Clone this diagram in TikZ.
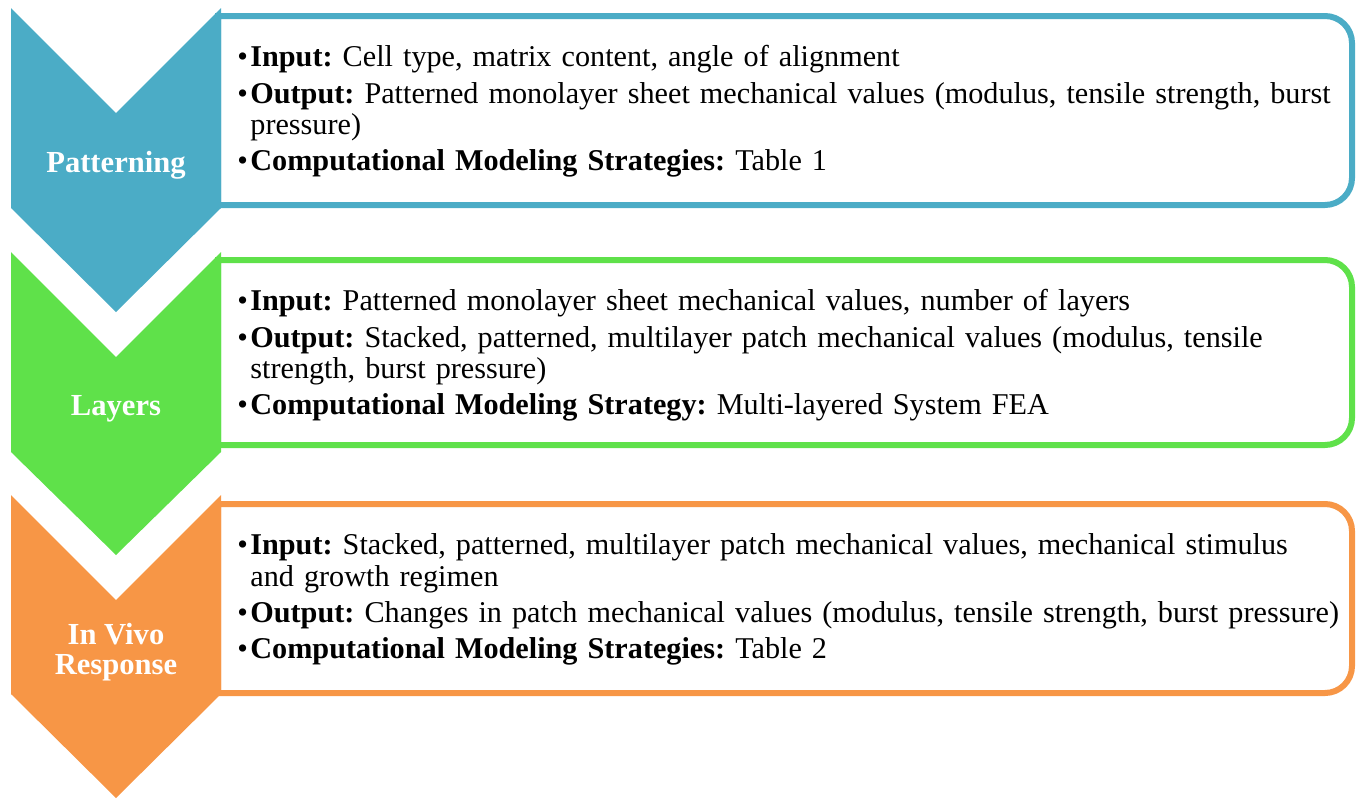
\documentclass[tikz,border=0pt]{standalone}
\usepackage{fontspec}
\setmainfont{Liberation Serif}
\usepackage{tikz}
\frenchspacing
\hyphenpenalty=10000
\definecolor{colorPatterning}{HTML}{4BACC6}
\definecolor{colorLayers}{HTML}{5FE14A}
\definecolor{colorVivo}{HTML}{F79646}
\tikzset{stage box/.style={draw=#1, line width=3pt, fill=white},
  stage label/.style={text=white, font=\fontsize{15.3}{15}\selectfont\bfseries, align=center, inner sep=0pt},
  stage text/.style={anchor=north west, text width=570pt, align=left, inner sep=0pt, font=\fontsize{15.1}{15.6}\selectfont}}
\newcommand{\stageitem}[2]{\ifvmode\else\par\vskip2.6pt\fi\hangindent=6.5pt\hangafter=1\noindent\makebox[6.5pt][l]{\textbullet}\textbf{#1} #2}

\begin{document}
\begin{tikzpicture}[x=0.5pt, y=-0.5pt]
\useasboundingbox (0,0) rectangle (1360,798);
% boxes
\draw[stage box=colorPatterning] (218,16) -- (1325,16) arc[start angle=90, end angle=0, radius=13.5pt] -- (1352,178) arc[start angle=0, end angle=-90, radius=13.5pt] -- (218,205) -- cycle;
\draw[stage box=colorLayers] (218,260) -- (1325,260) arc[start angle=90, end angle=0, radius=13.5pt] -- (1352,418) arc[start angle=0, end angle=-90, radius=13.5pt] -- (218,445) -- cycle;
\draw[stage box=colorVivo] (218,504) -- (1325,504) arc[start angle=90, end angle=0, radius=13.5pt] -- (1352,666) arc[start angle=0, end angle=-90, radius=13.5pt] -- (218,693) -- cycle;
% chevrons
\fill[colorPatterning] (11,8) -- (116,113) -- (221,8) -- (221,208) -- (116,312) -- (11,208) -- cycle;
\fill[colorLayers] (11,252) -- (116,357) -- (221,252) -- (221,452) -- (116,555) -- (11,452) -- cycle;
\fill[colorVivo] (11,495) -- (116,600) -- (221,495) -- (221,694) -- (116,798) -- (11,694) -- cycle;
\node[stage label] (patterning) at (116,165) {Patterning};
\node[stage label] (layers) at (116,409) {Layers};
\node[stage label] (vivo) at (116,652) {In Vivo\\Response};
% texts
\node[stage text] (patterningText) at (237,30) {\stageitem{Input:}{Cell type, matrix content, angle of alignment}
\stageitem{Output:}{Patterned monolayer sheet mechanical values (modulus, tensile strength, burst\newline pressure)}
\stageitem{Computational Modeling Strategies:}{Table 1}};
\node[stage text] (layersText) at (237,274) {\stageitem{Input:}{Patterned monolayer sheet mechanical values, number of layers}
\stageitem{Output:}{Stacked, patterned, multilayer patch mechanical values (modulus, tensile\newline strength, burst pressure)}
\stageitem{Computational Modeling Strategy:}{Multi-layered System FEA}};
\node[stage text] (vivoText) at (237,518) {\stageitem{Input:}{Stacked, patterned, multilayer patch mechanical values, mechanical stimulus\newline and growth regimen}
\stageitem{Output:}{Changes in patch mechanical values (modulus, tensile strength, burst pressure)}
\stageitem{Computational Modeling Strategies:}{Table 2}};
\end{tikzpicture}
\end{document}
